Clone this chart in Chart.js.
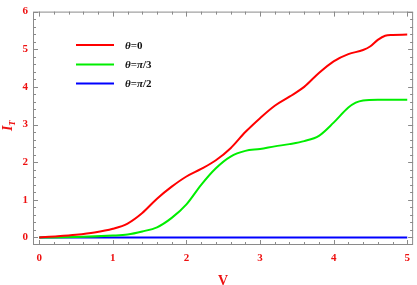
<!DOCTYPE html>
<html lang="en">
<head>
<meta charset="UTF-8">
<title>I_T vs V</title>
<script src="https://cdn.jsdelivr.net/npm/chart.js"></script>
<style>
  html, body { margin: 0; padding: 0; background: #fff; }
  #wrap { width: 417px; height: 285px; }
</style>
</head>
<body>
<div id="wrap"><canvas id="chart" width="417" height="285"></canvas></div>
<script>
// data
const vRed = [0, 0.25, 0.5, 0.75, 1.0, 1.2, 1.4, 1.6, 1.8, 2.0, 2.2, 2.4, 2.6, 2.8, 3.0, 3.2, 3.4, 3.6, 3.8, 4.0, 4.2, 4.4, 4.5, 4.6, 4.7, 4.8, 5.0];
const iRed = [0, 0.03, 0.07, 0.13, 0.23, 0.37, 0.65, 1.03, 1.35, 1.62, 1.82, 2.05, 2.37, 2.8, 3.17, 3.5, 3.74, 4.0, 4.37, 4.68, 4.87, 4.98, 5.08, 5.25, 5.36, 5.38, 5.39];
const vGreen = [0, 0.5, 1.0, 1.2, 1.4, 1.6, 1.8, 2.0, 2.2, 2.4, 2.6, 2.8, 3.0, 3.2, 3.4, 3.6, 3.8, 4.0, 4.2, 4.3, 4.4, 4.6, 5.0];
const iGreen = [0, 0.01, 0.05, 0.08, 0.16, 0.27, 0.52, 0.88, 1.4, 1.84, 2.15, 2.3, 2.35, 2.42, 2.48, 2.56, 2.7, 3.05, 3.45, 3.58, 3.64, 3.66, 3.66];
const vBlue = [0, 5];
const iBlue = [0, 0];
const seriesLabels = ['θ=0', 'θ=π/3', 'θ=π/2'];
const xTicks = [0, 1, 2, 3, 4, 5];
const yTicks = [0, 1, 2, 3, 4, 5, 6];

const pts = (xs, ys) => xs.map((x, i) => ({ x: x, y: ys[i] }));
const labelRed = '#ee1111';
const frameGray = '#8a8a8a';

// frame with inward ticks on all four sides, like the original
const framePlugin = {
  id: 'frame',
  afterDraw(chart) {
    const ctx = chart.ctx;
    const a = chart.chartArea;
    const xs = chart.scales.x, ys = chart.scales.y;
    ctx.save();
    ctx.strokeStyle = frameGray;
    ctx.lineWidth = 1;
    ctx.strokeRect(a.left + 0.5, a.top + 0.5, a.right - a.left - 1, a.bottom - a.top - 1);
    ctx.beginPath();
    for (let k = 0; k <= 25; k++) {
      const v = k * 0.2;
      const px = Math.round(xs.getPixelForValue(v)) + 0.5;
      const len = k % 5 === 0 ? 5 : 3;
      ctx.moveTo(px, a.bottom); ctx.lineTo(px, a.bottom - len);
      ctx.moveTo(px, a.top); ctx.lineTo(px, a.top + len);
    }
    for (let k = 0; k <= 30; k++) {
      const v = k * 0.2;
      const py = Math.round(ys.getPixelForValue(v)) + 0.5;
      const len = k % 5 === 0 ? 5 : 3;
      ctx.moveTo(a.left, py); ctx.lineTo(a.left + len, py);
      ctx.moveTo(a.right, py); ctx.lineTo(a.right - len, py);
    }
    ctx.stroke();

    // y title: I with subscript T, rotated
    ctx.fillStyle = labelRed;
    ctx.translate(12, 126);
    ctx.rotate(-Math.PI / 2);
    ctx.textBaseline = 'alphabetic';
    ctx.font = 'italic bold 14px "Liberation Serif"';
    ctx.fillText('I', -5, 0);
    ctx.font = 'italic bold 9px "Liberation Serif"';
    ctx.fillText('T', 0, 3);
    ctx.restore();

    // legend inside the plot
    ctx.save();
    const lx = 76, ly = [45, 64.5, 83.5];
    chart.data.datasets.forEach((ds, i) => {
      ctx.strokeStyle = ds.borderColor;
      ctx.lineWidth = 2;
      ctx.beginPath();
      ctx.moveTo(lx, ly[i]); ctx.lineTo(lx + 38, ly[i]);
      ctx.stroke();
      ctx.fillStyle = '#111';
      ctx.textBaseline = 'middle';
      let x = 125;
      for (const ch of ds.label) {
        const greek = ch === 'θ' || ch === 'π';
        ctx.font = (greek ? 'italic ' : '') + 'bold 11px "Liberation Serif"';
        ctx.fillText(ch, x, ly[i] + 1);
        x += ctx.measureText(ch).width;
      }
    });
    ctx.restore();
  }
};

new Chart(document.getElementById('chart'), {
  type: 'line',
  data: {
    datasets: [
      { label: seriesLabels[0], data: pts(vRed, iRed), borderColor: '#ff0000' },
      { label: seriesLabels[1], data: pts(vGreen, iGreen), borderColor: '#00ee00' },
      { label: seriesLabels[2], data: pts(vBlue, iBlue), borderColor: '#0000ff' }
    ]
  },
  options: {
    responsive: false,
    animation: false,
    layout: { padding: { top: 7, right: 2, left: 0, bottom: 0 } },
    elements: {
      point: { radius: 0 },
      line: { borderWidth: 2, cubicInterpolationMode: 'monotone', fill: false }
    },
    plugins: { legend: { display: false }, tooltip: { enabled: false } },
    scales: {
      x: {
        type: 'linear',
        min: -0.085, max: 5.08,
        grid: { display: false, drawTicks: false },
        border: { display: false },
        afterBuildTicks: s => { s.ticks = xTicks.map(v => ({ value: v })); },
        afterFit: s => { s.height = 40; },
        ticks: {
          color: labelRed, padding: 7, maxRotation: 0,
          font: { family: 'Liberation Serif', weight: 'bold', size: 11 }
        },
        title: {
          display: true, text: 'V', color: labelRed, padding: { top: 4, bottom: -5 },
          font: { family: 'Liberation Serif', weight: 'bold', size: 14 }
        }
      },
      y: {
        min: -0.2, max: 6,
        grid: { display: false, drawTicks: false },
        border: { display: false },
        afterBuildTicks: s => { s.ticks = yTicks.map(v => ({ value: v })); },
        afterFit: s => { s.width = 33; },
        ticks: {
          color: labelRed, padding: 5,
          font: { family: 'Liberation Serif', weight: 'bold', size: 11 }
        }
      }
    }
  },
  plugins: [framePlugin]
});
</script>
</body>
</html>
